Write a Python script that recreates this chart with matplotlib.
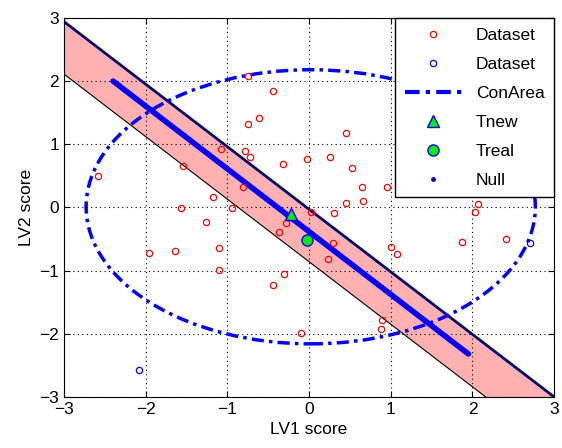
import numpy as np
import matplotlib.pyplot as plt
from matplotlib.patches import Ellipse
from matplotlib.lines import Line2D

plt.rcParams['font.family'] = ['Liberation Sans', 'DejaVu Sans']

# red dataset scores (LV1, LV2)
red_x = [-0.75, -0.44, -0.61, -0.75, -1.08, -0.78, -0.72, -0.02, -0.32, -1.54,
         -2.59, -0.81, -1.18, -1.57, -0.95, -1.26, -0.28, -0.37, -1.10, -1.96,
         -1.64, -1.10, -0.31, -0.44, -0.10, 0.45, 0.26, 0.53, 0.65, 0.95,
         0.45, 0.66, 0.02, 0.31, 2.07, 2.03, 1.87, 2.41, 0.29, 1.00,
         1.08, 0.23, 0.89, 0.88]
red_y = [2.08, 1.84, 1.42, 1.32, 0.92, 0.89, 0.80, 0.77, 0.69, 0.66,
         0.50, 0.32, 0.17, -0.01, -0.01, -0.23, -0.25, -0.39, -0.64, -0.72,
         -0.69, -0.99, -1.05, -1.23, -1.99, 1.18, 0.80, 0.63, 0.32, 0.32,
         0.07, 0.10, -0.07, -0.09, 0.06, -0.07, -0.55, -0.50, -0.56, -0.62,
         -0.74, -0.81, -1.78, -1.92]

# blue dataset scores
blue_x = [-2.08, 2.70]
blue_y = [-2.57, -0.57]

# confidence ellipse
ell_center = (0.02, 0.01)
ell_width = 5.50
ell_height = 4.34

# band edges (x, y of end points)
band_x = [-3.0, 3.0]
band_upper = [2.94, -3.0]
band_lower = [2.11, -3.83]

# null line end points
null_x = [-2.40, 1.95]
null_y = [2.00, -2.32]

tnew = (-0.22, -0.10)
treal = (-0.02, -0.51)

fig = plt.figure(figsize=(5.62, 4.48), dpi=100)
ax = fig.add_axes([0.114, 0.114, 0.872, 0.846])

ax.fill_between(band_x, band_lower, band_upper, color='#ffb0b0', lw=0, zorder=1)
ax.plot(band_x, band_upper, color='blue', lw=2.0, zorder=2)
ax.plot(band_x, band_upper, color='black', lw=1.0, zorder=2)
ax.plot(band_x, band_lower, color='black', lw=0.8, zorder=2)

ell = Ellipse(ell_center, ell_width, ell_height, fill=False, edgecolor='blue',
              lw=2.5, linestyle=(0, (3.5, 1.5, 1, 1.5)), zorder=3)
ax.add_patch(ell)

ax.plot(null_x, null_y, color='blue', lw=4, solid_capstyle='round', zorder=4)

ax.plot(red_x, red_y, 'o', mfc='none', mec='red', ms=4.5, mew=0.9, zorder=5)
ax.plot(blue_x, blue_y, 'o', mfc='none', mec='blue', ms=4.5, mew=0.9, zorder=5)
ax.plot(*tnew, '^', mfc='#00ee00', mec='blue', ms=8, mew=1, zorder=6)
ax.plot(*treal, 'o', mfc='#00ee00', mec='blue', ms=8, mew=1, zorder=6)

ax.set_xlim(-3, 3)
ax.set_ylim(-3, 3)
ax.set_xticks(range(-3, 4))
ax.set_yticks(range(-3, 4))
ax.grid(True, color='black', linestyle=(0, (1, 3)), lw=0.8)
ax.tick_params(direction='in', top=True, right=True, labelsize=12.5, length=4)
ax.set_xlabel('LV1 score', fontsize=12.5)
ax.set_ylabel('LV2 score', fontsize=12.5)

handles = [
    Line2D([], [], ls='none', marker='o', mfc='none', mec='red', ms=4.5, mew=0.9),
    Line2D([], [], ls='none', marker='o', mfc='none', mec='blue', ms=4.5, mew=0.9),
    Line2D([], [], color='blue', lw=3, linestyle=(0, (3.5, 1.5, 1, 1.5))),
    Line2D([], [], ls='none', marker='^', mfc='#00ee00', mec='blue', ms=8, mew=1),
    Line2D([], [], ls='none', marker='o', mfc='#00ee00', mec='blue', ms=8, mew=1),
    Line2D([], [], ls='none', marker='.', color='blue', ms=5),
]
labels = ['Dataset', 'Dataset', 'ConArea', 'Tnew', 'Treal', 'Null']
leg = ax.legend(handles, labels, loc='upper right', fontsize=12.5, numpoints=1,
                handlelength=3.3, labelspacing=0.8, borderpad=0.55,
                borderaxespad=0, fancybox=False, framealpha=1, edgecolor='black')
leg.get_frame().set_linewidth(1.0)
leg.set_zorder(10)

fig.savefig('out.png', dpi=100)
